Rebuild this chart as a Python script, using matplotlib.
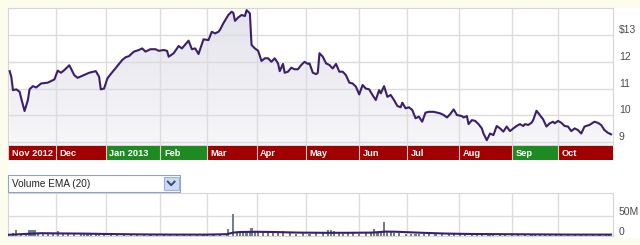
import numpy as np
import matplotlib.pyplot as plt
from matplotlib.patches import Rectangle
from matplotlib.lines import Line2D
from matplotlib.colors import LinearSegmentedColormap

plt.rcParams['font.family'] = ['Liberation Sans', 'DejaVu Sans']

# closing price, day offset from Nov 1 2012
days = [1, 2, 3, 5, 7, 8, 10, 12, 13, 15, 17, 20, 24, 28, 30, 32, 34, 37, 38, 40,
        42, 45, 49, 53, 55, 56, 58, 60, 62, 64, 66, 69, 71, 73, 76, 79, 81, 83, 86, 89,
        91, 94, 96, 97, 100, 103, 105, 109, 111, 113, 115, 118, 121, 123, 125, 127, 128, 130, 133, 135,
        136, 137, 139, 141, 143, 144, 145, 146, 147, 149, 151, 153, 155, 157, 159, 161, 163, 164, 166, 167,
        169, 171, 173, 175, 177, 179, 181, 182, 184, 186, 187, 188, 190, 192, 194, 196, 198, 200, 202, 204,
        206, 208, 210, 212, 214, 216, 218, 220, 222, 224, 225, 227, 229, 231, 233, 235, 237, 238, 240, 242,
        244, 246, 248, 250, 252, 254, 257, 259, 261, 263, 265, 267, 269, 271, 274, 275, 277, 278, 280, 282,
        284, 286, 287, 289, 291, 293, 295, 297, 299, 301, 303, 305, 307, 309, 311, 312, 314, 316, 317, 319,
        321, 323, 325, 327, 329, 330, 332, 334, 336, 338, 340, 342, 344, 346, 348, 351, 354, 356, 358, 360,
        362, 364]
price = [11.65, 11.44, 10.94, 10.97, 10.88, 10.63, 10.16, 10.57, 10.97, 11.09, 11.04, 11.19, 11.22, 11.34, 11.67, 11.59, 11.69, 11.87, 11.75, 11.50,
         11.40, 11.48, 11.59, 11.65, 11.44, 10.97, 11.00, 11.38, 11.54, 11.69, 11.84, 12.07, 12.17, 12.21, 12.38, 12.44, 12.50, 12.38, 12.47, 12.47,
         12.41, 12.44, 12.41, 12.19, 12.32, 12.59, 12.50, 12.79, 12.47, 12.50, 12.29, 12.84, 12.81, 13.12, 13.06, 13.12, 13.20, 13.44, 13.75, 13.87,
         13.83, 13.53, 13.66, 13.75, 13.71, 13.93, 13.87, 13.81, 12.63, 12.50, 12.41, 12.03, 12.13, 12.13, 12.00, 12.13, 11.94, 11.65, 11.92, 11.59,
         11.63, 11.78, 11.72, 11.72, 11.88, 12.00, 11.92, 11.94, 11.59, 11.54, 11.59, 12.32, 12.19, 11.94, 11.88, 11.75, 11.92, 11.63, 11.63, 11.50,
         11.22, 11.19, 11.07, 10.78, 11.13, 11.00, 10.97, 10.76, 10.57, 10.94, 10.82, 11.09, 10.69, 10.76, 10.57, 10.35, 10.30, 10.47, 10.26, 10.30,
         10.20, 9.89, 9.95, 9.76, 10.10, 10.13, 10.13, 10.10, 10.07, 10.01, 9.92, 10.05, 10.22, 10.01, 9.97, 9.92, 9.97, 9.67, 9.82, 9.79,
         9.67, 9.51, 9.32, 9.07, 9.32, 9.26, 9.60, 9.51, 9.39, 9.58, 9.41, 9.51, 9.60, 9.67, 9.60, 9.67, 9.64, 9.72, 9.82, 10.17,
         10.01, 9.85, 9.58, 9.70, 9.76, 9.70, 9.79, 9.72, 9.60, 9.58, 9.41, 9.51, 9.45, 9.32, 9.58, 9.64, 9.76, 9.72, 9.64, 9.45,
         9.35, 9.29]

month_names = ['Nov 2012', 'Dec', 'Jan 2013', 'Feb', 'Mar', 'Apr', 'May', 'Jun', 'Jul', 'Aug', 'Sep', 'Oct']
month_starts = [0, 29, 59, 92, 120, 150, 180, 212, 241, 272, 304, 332, 365]
up_months = ['Jan 2013', 'Feb', 'Sep']

price_ticks = [9, 10, 11, 12, 13]
price_labels = ['9', '10', '11', '12', '$13']

# volume in millions
vol_days = [0, 3, 5, 8, 11, 13, 14, 15, 16, 18, 21, 24, 27, 30, 33, 36, 40, 44, 46, 48,
            50, 53, 55, 58, 62, 66, 70, 74, 78, 82, 86, 90, 94, 98, 102, 106, 110, 114, 118, 120,
            124, 128, 132, 133, 136, 138, 140, 142, 144, 146, 147, 149, 151, 154, 157, 160, 163, 166, 170, 174,
            178, 182, 186, 190, 193, 195, 197, 200, 202, 205, 208, 212, 216, 219, 221, 223, 225, 227, 229, 231,
            233, 236, 240, 243, 246, 248, 251, 254, 258, 262, 266, 269, 273, 276, 280, 283, 286, 290, 291, 293,
            297, 300, 304, 308, 312, 316, 318, 321, 324, 327, 331, 334, 338, 342, 346, 349, 353, 357, 361, 363]
vol_values = [6, 8, 14, 6, 5, 16, 16, 16, 16, 7, 5, 6, 5, 12, 5, 5, 6, 5, 7, 7,
              6, 5, 7, 5, 4, 4, 5, 4, 4, 4, 5, 4, 4, 4, 4, 5, 4, 5, 6, 4,
              5, 4, 6, 18, 56, 10, 11, 10, 9, 10, 20, 10, 10, 9, 10, 8, 8, 12, 7, 6,
              7, 6, 7, 8, 14, 14, 13, 7, 6, 11, 7, 6, 7, 9, 18, 9, 7, 35, 10, 9,
              8, 7, 6, 5, 6, 4, 5, 4, 6, 4, 5, 4, 5, 4, 5, 4, 5, 6, 6, 5,
              4, 4, 5, 4, 4, 5, 6, 4, 5, 4, 5, 4, 4, 3, 5, 4, 3, 4, 5, 4]
ema_days = [0, 10, 20, 30, 45, 60, 80, 100, 120, 132, 136, 140, 150, 160, 175, 190, 205, 220, 228, 235,
            250, 265, 280, 300, 320, 340, 364]
ema_values = [3, 5, 7, 6.5, 6, 5, 4, 3.5, 3.5, 4.5, 8.5, 10, 10.5, 10, 8.5, 8, 8, 8.5, 11, 10.5,
              8, 6, 5, 4.5, 4, 3.5, 3.5]

W, H = 640, 245
fig = plt.figure(figsize=(W / 100, H / 100), dpi=100, facecolor='#FDFDEE')
fig.add_artist(Rectangle((8 / W, 1 - 238 / H), 632 / W, 230 / H, transform=fig.transFigure,
                         facecolor='white', edgecolor='none', zorder=-1))


def px_axes(x0, y0, x1, y1):
    return fig.add_axes([x0 / W, 1 - y1 / H, (x1 - x0) / W, (y1 - y0) / H])


grid_c = '#DCDCDC'
line_c = '#3D1E6D'
label_c = '#4A4A4A'

# price panel
ax = px_axes(8, 8, 612.7, 145)
ylo, yhi = 8.89, 14.01
poly = ax.fill_between(days, price, ylo, facecolor='none', edgecolor='none')
cmap = LinearSegmentedColormap.from_list('fade', ['#F7F7FA', '#E3E3EB'])
grad = np.linspace(0, 1, 256).reshape(-1, 1)
im = ax.imshow(grad, extent=[0, 365, ylo, yhi], origin='lower', cmap=cmap, aspect='auto', zorder=1)
im.set_clip_path(poly.get_paths()[0], transform=ax.transData)
for v in price_ticks:
    ax.axhline(v, color=grid_c, lw=1, zorder=2)
for m in month_starts[1:-1]:
    ax.axvline(m, color=grid_c, lw=1, zorder=2)
ax.plot(days, price, color=line_c, lw=1.5, zorder=4, solid_joinstyle='round')
ax.set_xlim(0, 365)
ax.set_ylim(ylo, yhi)
ax.set_xticks([])
ax.set_yticks([])
for s in ax.spines.values():
    s.set_color('#D6D6D6')
    s.set_linewidth(0.8)
for v, lab in zip(price_ticks, price_labels):
    ax.annotate(lab, xy=(1, v), xycoords=('axes fraction', 'data'), xytext=(4.5, 3.6),
                textcoords='offset points', ha='left', va='center', fontsize=7.5, color=label_c)

# month strip
axm = px_axes(8, 146.5, 612.7, 160)
for i, name in enumerate(month_names):
    x0, x1 = month_starts[i], month_starts[i + 1]
    col = '#1E8A22' if name in up_months else '#A00000'
    axm.bar(x0, 1, width=x1 - x0, align='edge', color=col, edgecolor='none')
    axm.axvline(x0, color='#E9C8C8', lw=0.8)
    axm.text(x0 + 2.2, 0.47, name, color='white', fontweight='bold', fontsize=6.7,
             ha='left', va='center')
axm.set_xlim(0, 365)
axm.set_ylim(0, 1)
axm.axis('off')

# dropdown
fig.add_artist(Rectangle((8 / W, 1 - 192 / H), 172 / W, 17 / H, transform=fig.transFigure,
                         facecolor='white', edgecolor='#8EA4C4', lw=0.8))
fig.text(12 / W, 1 - 183.5 / H, 'Volume EMA (20)', fontsize=7.2, color='#222222', va='center')
fig.add_artist(Rectangle((164 / W, 1 - 190 / H), 14.5 / W, 13 / H, transform=fig.transFigure,
                         facecolor='#CCDBF2', edgecolor='#9DB3D6', lw=0.8))
fig.add_artist(Line2D([167.8 / W, 171.2 / W, 174.6 / W],
                      [1 - 181.6 / H, 1 - 185.2 / H, 1 - 181.6 / H],
                      transform=fig.transFigure, color='#2C4C8C', lw=1.4))

# volume panel
axv = px_axes(8, 193, 612.7, 236)
axv.axhline(50, color=grid_c, lw=1, zorder=1)
for m in month_starts[1:-1]:
    axv.axvline(m, color=grid_c, lw=1, zorder=1)
axv.bar(vol_days, vol_values, width=1.3, color='#6E7F90', zorder=3)
axv.plot(ema_days, ema_values, color=line_c, lw=1.5, zorder=4)
axv.set_xlim(0, 365)
axv.set_ylim(0, 107.5)
axv.set_xticks([])
axv.set_yticks([])
for s in axv.spines.values():
    s.set_color('#D6D6D6')
    s.set_linewidth(0.8)
for v, lab in zip([0, 50], ['0', '50M']):
    axv.annotate(lab, xy=(1, v), xycoords=('axes fraction', 'data'), xytext=(4.5, 3.2),
                 textcoords='offset points', ha='left', va='center', fontsize=7.5, color=label_c)

fig.savefig('out.png', dpi=100, facecolor=fig.get_facecolor())
